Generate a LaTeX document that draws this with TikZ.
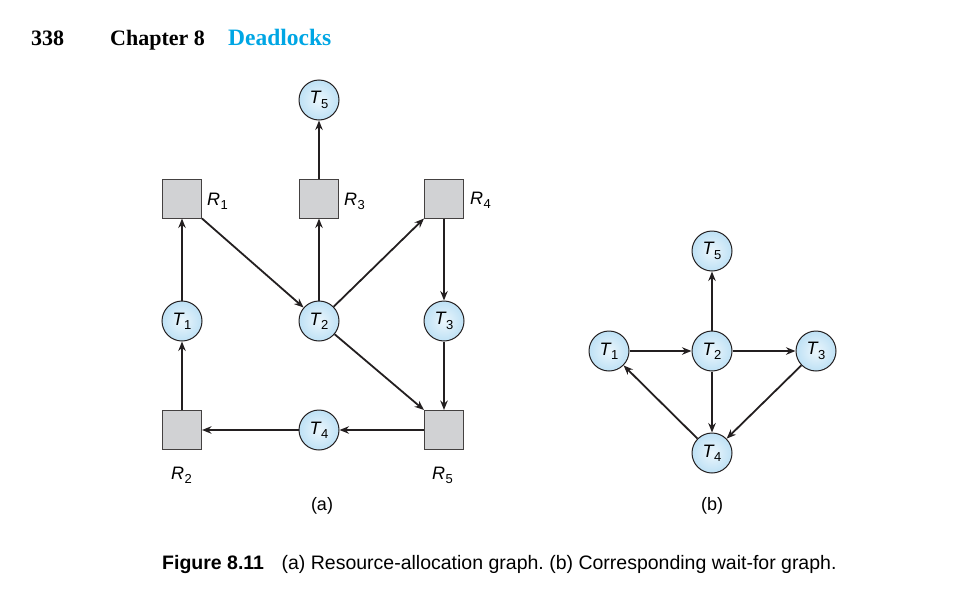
\documentclass[tikz,border=0pt]{standalone}
\usepackage{fontspec}
\setmainfont{Liberation Sans}
\newfontfamily\headfont{Liberation Serif}
\usetikzlibrary{arrows.meta}
\frenchspacing
\definecolor{procblue}{RGB}{190,225,245}
\definecolor{resgray}{RGB}{209,210,212}
\definecolor{headcyan}{RGB}{0,166,228}
\definecolor{inkline}{RGB}{35,31,32}
\newcommand{\tn}[1]{\textit{T}\kern-0.5pt\raisebox{-0.45ex}{\fontsize{13}{13}\selectfont #1}}
\newcommand{\rn}[1]{\textit{R}\kern0.5pt\raisebox{-0.45ex}{\fontsize{13}{13}\selectfont #1}}

\begin{document}
\begin{tikzpicture}[x=1pt,y=-1pt,
  proc/.style={circle,draw=inkline,line width=1pt,inner color=procblue!30,outer color=procblue,
    minimum size=40pt,inner sep=0pt,font=\fontsize{18}{18}\selectfont},
  res/.style={rectangle,draw=inkline!85,line width=1pt,fill=resgray,minimum size=39pt,inner sep=0pt},
  lab/.style={font=\fontsize{18}{18}\selectfont,inner sep=0pt},
  flow/.style={draw=inkline,line width=1.8pt,-{Stealth[length=9.5pt,width=7.5pt]}}]
\useasboundingbox (0,0) rectangle (972,608);

% page header
\node (page) at (31,45) [anchor=base west,inner sep=0pt] {\headfont\bfseries\fontsize{22}{22}\selectfont 338};
\node (chap) at (110,45) [anchor=base west,inner sep=0pt] {\headfont\bfseries\fontsize{22}{22}\selectfont Chapter 8};
\node (title) at (228,45) [anchor=base west,inner sep=0pt,text=headcyan] {\headfont\bfseries\fontsize{23.5}{23.5}\selectfont Deadlocks};

% (a) resource-allocation graph
\node (t5) at (319,100) [proc] {\tn{5}};
\node (r1) at (182,198.5) [res] {};
\node (r3) at (319,198.5) [res] {};
\node (r4) at (444,198.5) [res] {};
\node (t1) at (182,321) [proc] {\tn{1}};
\node (t2) at (319,321) [proc] {\tn{2}};
\node (t3) at (444,321) [proc] {\tn{3}};
\node (r2) at (182,430) [res] {};
\node (t4) at (319,430) [proc] {\tn{4}};
\node (r5) at (444,430) [res] {};

\node (r1lab) at (207,205) [lab,anchor=base west] {\rn{1}};
\node (r3lab) at (344,205) [lab,anchor=base west] {\rn{3}};
\node (r4lab) at (470,204) [lab,anchor=base west] {\rn{4}};
\node (r2lab) at (171,479) [lab,anchor=base west] {\rn{2}};
\node (r5lab) at (432,479) [lab,anchor=base west] {\rn{5}};
\node (alab) at (322,510) [anchor=base,font=\fontsize{18}{18}\selectfont] {(a)};

\draw[flow] (r3) -- (t5);
\draw[flow] (r1.south east) -- (t2);
\draw[flow] (t1) -- (r1);
\draw[flow] (t2) -- (r3);
\draw[flow] (t2) -- (r4.south west);
\draw[flow] (r4) -- (t3);
\draw[flow] (t3) -- (r5);
\draw[flow] (t2) -- (r5.north west);
\draw[flow] (r5) -- (t4);
\draw[flow] (t4) -- (r2);
\draw[flow] (r2) -- (t1);

% (b) wait-for graph
\node (bt5) at (712,251) [proc] {\tn{5}};
\node (bt1) at (609,351) [proc] {\tn{1}};
\node (bt2) at (712,351) [proc] {\tn{2}};
\node (bt3) at (816,351) [proc] {\tn{3}};
\node (bt4) at (712,453) [proc] {\tn{4}};
\node (blab) at (712,510) [anchor=base,font=\fontsize{18}{18}\selectfont] {(b)};

\draw[flow] (bt2) -- (bt5);
\draw[flow] (bt1) -- (bt2);
\draw[flow] (bt2) -- (bt3);
\draw[flow] (bt2) -- (bt4);
\draw[flow] (bt3) -- (bt4);
\draw[flow] (bt4) -- (bt1);

% caption
\node (cap) at (162,569) [anchor=base west,inner sep=0pt,font=\fontsize{19.5}{19.5}\selectfont]
  {\textbf{Figure 8.11}\hspace{0.9em}(a) Resource-allocation graph. (b) Corresponding wait-for graph.};
\end{tikzpicture}
\end{document}
